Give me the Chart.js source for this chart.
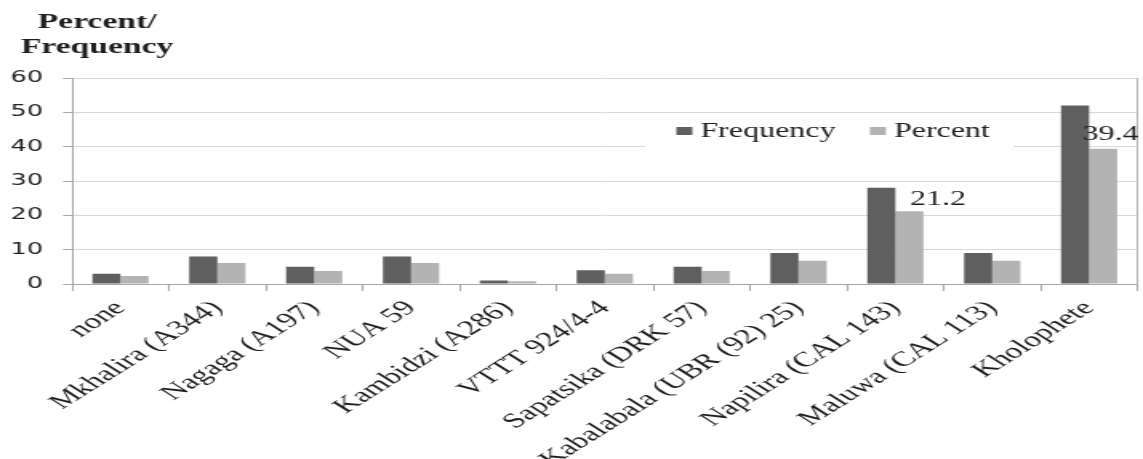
<!DOCTYPE html>
<html>
<head>
<meta charset="utf-8">
<script src="https://cdn.jsdelivr.net/npm/chart.js@4.4.1/dist/chart.umd.min.js"></script>
<style>
  html, body { margin: 0; padding: 0; background: #fff; overflow: hidden; }
  /* chart is laid out narrow and widened horizontally */
  #frame { width: 714px; height: 459px; transform-origin: 0 0; transform: scaleX(1.6008); }
</style>
</head>
<body>
<div id="frame"><canvas id="chart"></canvas></div>
<script>
const varieties = ['none', 'Mkhalira (A344)', 'Nagaga (A197)', 'NUA 59', 'Kambidzi (A286)',
  'VTTT 924/4-4', 'Sapatsika (DRK 57)', 'Kabalabala (UBR (92) 25)', 'Napilira (CAL 143)',
  'Maluwa (CAL 113)', 'Kholophete'];
const frequency = [3, 8, 5, 8, 1, 4, 5, 9, 28, 9, 52];
const percent = [2.3, 6.1, 3.8, 6.1, 0.8, 3.0, 3.8, 6.8, 21.2, 6.8, 39.4];
const yTicks = [0, 10, 20, 30, 40, 50, 60];
const seriesNames = ['Frequency', 'Percent'];
const axisCaption = ['Percent/', 'Frequency'];
const labelledBars = [8, 10];

const SERIF = '"Liberation Serif", "Times New Roman", serif';
const colors = { frequency: '#5f5f5f', percent: '#b3b3b3', axis: '#a6a6a6', grid: '#d9d9d9', text: '#1e1e1e' };

// Two-line caption above the value axis
const captionPlugin = {
  id: 'caption',
  afterDraw(chart, args, opts) {
    const ctx = chart.ctx;
    ctx.save();
    ctx.font = 'bold 21px ' + SERIF;
    ctx.fillStyle = colors.text;
    ctx.textAlign = 'center';
    ctx.textBaseline = 'alphabetic';
    axisCaption.forEach((line, i) => ctx.fillText(line, opts.x, opts.y + i * opts.lineHeight));
    ctx.restore();
  }
};

// Legend boxed inside the plot area
const boxLegendPlugin = {
  id: 'boxLegend',
  afterDatasetsDraw(chart, args, opts) {
    const ctx = chart.ctx;
    ctx.save();
    ctx.fillStyle = '#ffffff';
    ctx.fillRect(opts.left, opts.top, opts.width, opts.height);
    ctx.font = '20px ' + SERIF;
    ctx.textBaseline = 'alphabetic';
    let x = opts.left + opts.padding;
    chart.data.datasets.forEach((ds) => {
      ctx.fillStyle = ds.backgroundColor;
      ctx.fillRect(x, opts.baseline - 9.5, opts.marker, 8);
      x += opts.marker + opts.markerGap;
      ctx.fillStyle = colors.text;
      ctx.textAlign = 'left';
      ctx.fillText(ds.label, x, opts.baseline);
      x += ctx.measureText(ds.label).width + opts.itemGap;
    });
    ctx.restore();
  }
};

// Value labels on selected Percent bars
const valueLabelPlugin = {
  id: 'valueLabels',
  afterDatasetsDraw(chart, args, opts) {
    const ctx = chart.ctx;
    const meta = chart.getDatasetMeta(1);
    ctx.save();
    ctx.font = '20px ' + SERIF;
    ctx.fillStyle = colors.text;
    ctx.textAlign = 'center';
    ctx.textBaseline = 'alphabetic';
    labelledBars.forEach((i) => {
      const bar = meta.data[i];
      const off = opts.offsets[i];
      ctx.fillText(percent[i].toFixed(1), bar.x + off.dx, bar.y + off.dy);
    });
    ctx.restore();
  }
};

new Chart(document.getElementById('chart'), {
  type: 'bar',
  data: {
    labels: varieties,
    datasets: [
      { label: seriesNames[0], data: frequency, backgroundColor: colors.frequency },
      { label: seriesNames[1], data: percent, backgroundColor: colors.percent }
    ]
  },
  options: {
    responsive: true,
    maintainAspectRatio: false,
    animation: false,
    datasets: { bar: { categoryPercentage: 0.58, barPercentage: 1 } },
    layout: { padding: { top: 78, right: 3.4, left: 0, bottom: 0 } },
    plugins: {
      legend: { display: false },
      tooltip: { enabled: false },
      caption: { x: 60.6, y: 28, lineHeight: 25 },
      boxLegend: { left: 403, top: 116, width: 230, height: 60, padding: 19.5, marker: 10, markerGap: 5, itemGap: 21.5, baseline: 136.5 },
      valueLabels: { offsets: { 8: { dx: 18, dy: -6 }, 10: { dx: 4.7, dy: -8.5 } } }
    },
    scales: {
      x: {
        grid: { offset: true, drawOnChartArea: false, tickLength: 7, tickColor: colors.axis },
        border: { color: colors.axis },
        ticks: { autoSkip: false, minRotation: 45, maxRotation: 45, padding: 5, color: colors.text,
          font: { family: SERIF, size: 21 } },
        afterFit(scale) { scale.height = 175; }
      },
      y: {
        min: yTicks[0], max: yTicks[yTicks.length - 1],
        grid: { color: colors.grid, tickLength: 5.6, tickColor: colors.axis },
        border: { color: colors.axis },
        ticks: { padding: 12.5, color: colors.text, font: { family: '"DejaVu Sans", sans-serif', size: 16 } },
        afterBuildTicks(scale) { scale.ticks = yTicks.map((v) => ({ value: v })); },
        afterFit(scale) { scale.width = 45; }
      },
      yEdge: {
        position: 'right', display: true,
        min: yTicks[0], max: yTicks[yTicks.length - 1],
        grid: { drawOnChartArea: false, drawTicks: false },
        ticks: { display: false },
        border: { color: '#b0b0b0' }
      }
    }
  },
  plugins: [captionPlugin, boxLegendPlugin, valueLabelPlugin]
});
</script>
</body>
</html>
